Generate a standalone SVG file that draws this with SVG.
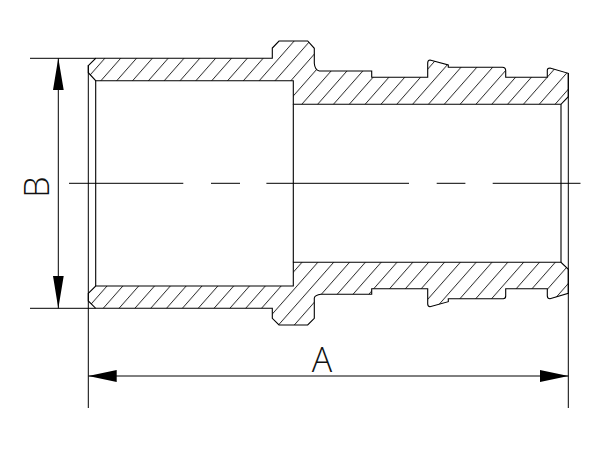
<svg xmlns="http://www.w3.org/2000/svg" width="600" height="450" viewBox="0 0 600 450">
<style>
.o{fill:none;stroke:#000;stroke-width:1.1}
.d{fill:none;stroke:#000;stroke-width:1}
.a{fill:#000}
.t{font-family:"Open Sans","Liberation Sans",sans-serif;font-weight:300;fill:#111}
</style>
<defs>
<pattern id="hTop" patternUnits="userSpaceOnUse" width="15.83" height="300" patternTransform="translate(13.1 0) skewX(-41.35)"><rect width="1.1" height="300" fill="#333"/></pattern>
<pattern id="hBot" patternUnits="userSpaceOnUse" width="15.83" height="300" patternTransform="translate(9.9 0) skewX(-41.35)"><rect width="1.1" height="300" fill="#333"/></pattern>
</defs>
<rect width="600" height="450" fill="#fff"/>
<g id="section-top">
<path class="o" style="fill:url(#hTop)" d="M88.3 65.7L95.7 58.3H272.3V48L279 41H307.7L314.3 48.3V63.3Q314.8 70 319.3 71H371.7V77.3H427.7V62.7Q428 60 430 60L448.3 65V67.3H502.3Q505.7 67.5 505.7 70.7V77.3H547.3V70Q547.5 68 550 68L568.3 73.3V96.7L561 104.3H293.3V80.7H95.7L88.3 72.7Z"/>
</g>
<g id="section-bottom">
<path class="o" style="fill:url(#hBot)" d="M88.3 293.3L95.7 286H293.3V262.3H561L568.3 269.3V293.3L550 298.7Q547.5 298.7 547.3 296V288.7H505.7V296Q505.7 298.7 503.3 298.7H448.3V301.7L430 306.7Q427.7 306.5 427.7 304V288.7H371.7V294.3H321Q315 295 314.3 298V318.3L307.7 325H279L272.3 318.3V308.3H95.7L88.3 301Z"/>
</g>
<g id="bore">
<path class="o" d="M95.7 80.7V286M293.3 104.3V262.3M561 104.3V262.3"/>
</g>
<g id="connectors">
<path class="d" d="M69 183.3H183.3M211 183.3H240M266.4 183.3H409M436.7 183.3H465.4M492.7 183.3H580.5"/>
<path class="d" d="M30 58.3H95.7M30 308.3H95.7M88.3 65V408M568.3 73V408M58.3 58.3V308.3M88.3 376H568.3"/>
<path class="a" d="M58.3 58L63.7 90H53ZM58.3 308.5L53 276H63.7ZM88.3 376L116.7 370V382ZM568.5 376L540 370V382Z"/>
</g>
<g id="labels">
<text class="t" x="322" y="371.7" font-size="34" text-anchor="middle">A</text>
<text class="t" transform="translate(48.5 187) rotate(-90)" font-size="34" text-anchor="middle">B</text>
</g>
</svg>
